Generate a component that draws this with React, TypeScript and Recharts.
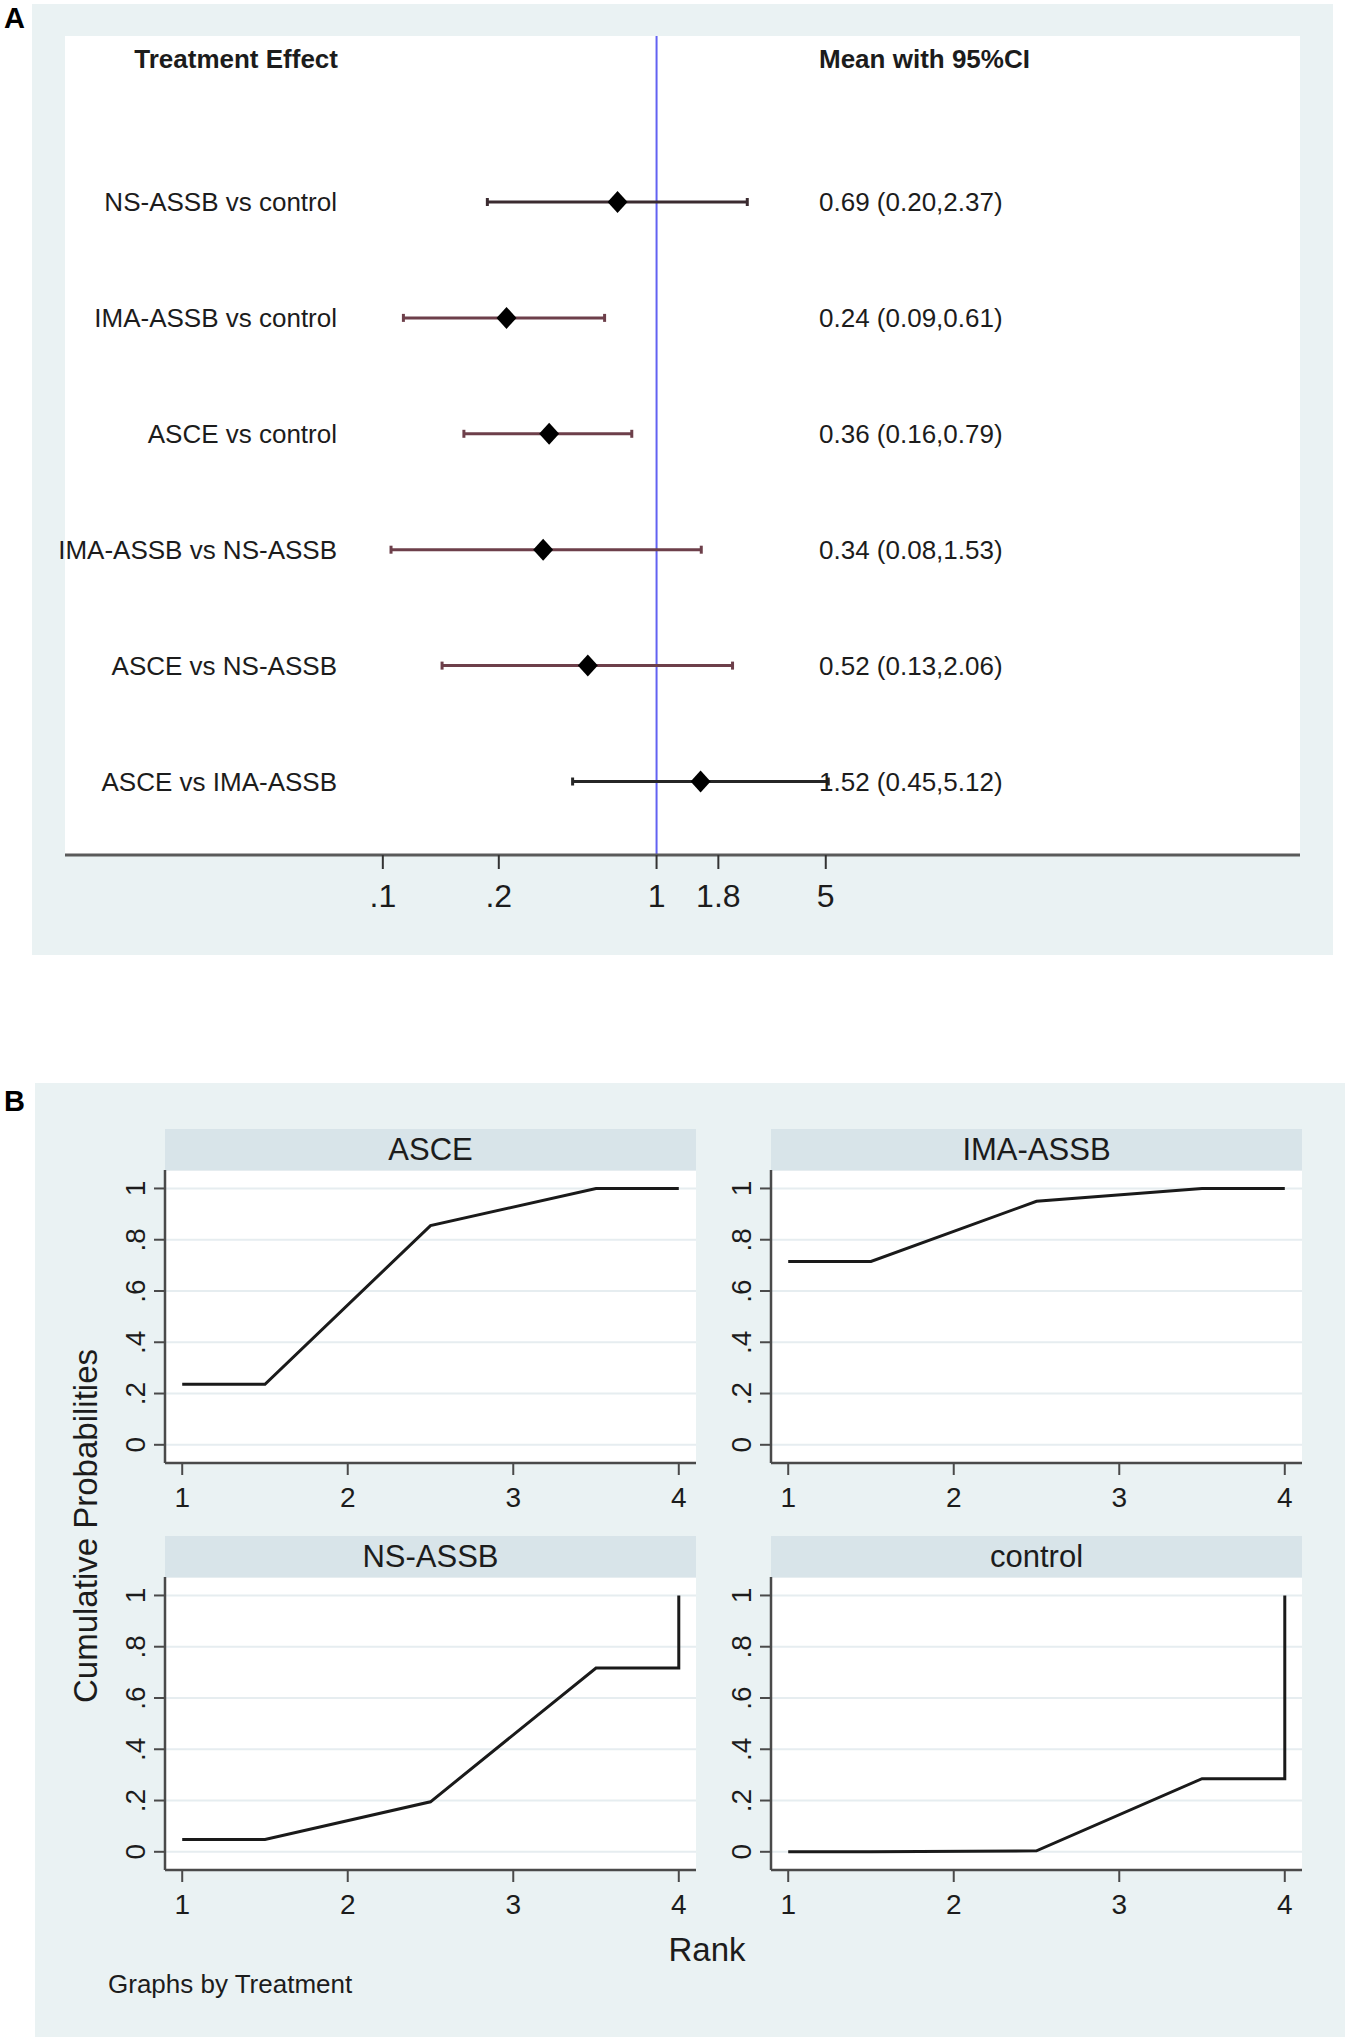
import React from 'react';
import {
  ScatterChart,
  Scatter,
  XAxis,
  YAxis,
  ErrorBar,
  ReferenceLine,
  CartesianGrid,
  LineChart,
  Line,
} from 'recharts';

// ---------- Panel A data (forest plot) ----------
const COMPARISONS = [
  'NS-ASSB vs control',
  'IMA-ASSB vs control',
  'ASCE vs control',
  'IMA-ASSB vs NS-ASSB',
  'ASCE vs NS-ASSB',
  'ASCE vs IMA-ASSB',
];
const MEANS = [0.69, 0.24, 0.36, 0.34, 0.52, 1.52];
const LOWER = [0.2, 0.09, 0.16, 0.08, 0.13, 0.45];
const UPPER = [2.37, 0.61, 0.79, 1.53, 2.06, 5.12];
// tick positions as they appear on the reference axis, and their labels
const FOREST_TICKS = [0.074, 0.223, 1, 1.8, 5];
const FOREST_TICK_LABELS = ['.1', '.2', '1', '1.8', '5'];

// ---------- Panel B data (cumulative rank probabilities) ----------
const RANK_X = [1, 1.5, 2.5, 3.5, 4, 4];
const ASCE_CUM = [0.236, 0.236, 0.855, 1, 1, 1];
const IMA_CUM = [0.715, 0.715, 0.95, 1, 1, 1];
const NS_CUM = [0.048, 0.048, 0.195, 0.717, 0.717, 1];
const CONTROL_CUM = [0, 0, 0.004, 0.285, 0.285, 1];
const RANK_TICKS = [1, 2, 3, 4];
const PROB_TICKS = [0, 0.2, 0.4, 0.6, 0.8, 1];
const PROB_TICK_LABELS = ['0', '.2', '.4', '.6', '.8', '1'];

// ---------- styles ----------
const FONT = '"Liberation Sans", Arial, Helvetica, sans-serif';
const TEXT = '#1c1c1c';
const BG = '#eaf2f3';
const STRIP = '#d8e4e9';
const CI_COLORS = ['#3b2b30', '#6d3f4a', '#6d3f4a', '#6d3f4a', '#6d3f4a', '#262626'];

const fmt = (v: number) => v.toFixed(2);

const forestRows = COMPARISONS.map((label, i) => ({
  y: i,
  x: MEANS[i],
  err: [MEANS[i] - LOWER[i], UPPER[i] - MEANS[i]],
  label,
  text: `${fmt(MEANS[i])} (${fmt(LOWER[i])},${fmt(UPPER[i])})`,
}));

const ForestShape = (props: any) => {
  const { cx, cy, payload } = props;
  return (
    <g>
      <polygon
        points={`${cx},${cy - 11} ${cx + 10},${cy} ${cx},${cy + 11} ${cx - 10},${cy}`}
        fill="#000"
      />
      <text
        x={337}
        y={cy}
        dy="0.36em"
        textAnchor="end"
        fontSize={26}
        fontFamily={FONT}
        fill={TEXT}
      >
        {payload.label}
      </text>
      <text
        x={819}
        y={cy}
        dy="0.36em"
        textAnchor="start"
        fontSize={26}
        fontFamily={FONT}
        fill={TEXT}
      >
        {payload.text}
      </text>
    </g>
  );
};

const ForestPanel = () => (
  <>
    <div
      style={{ position: 'absolute', left: 32, top: 4, width: 1301, height: 951, background: BG }}
    />
    <div
      style={{
        position: 'absolute',
        left: 4,
        top: 4,
        fontSize: 29,
        lineHeight: 1,
        fontWeight: 'bold',
        fontFamily: FONT,
        color: '#000',
      }}
    >
      A
    </div>
    <div style={{ position: 'absolute', left: 0, top: 0 }}>
      <ScatterChart
        width={1350}
        height={960}
        margin={{ top: 36, right: 50, bottom: 45, left: 65 }}
      >
        <CartesianGrid horizontal={false} vertical={false} fill="#ffffff" fillOpacity={1} />
        <XAxis
          type="number"
          dataKey="x"
          scale="log"
          domain={[0.0036, 455]}
          ticks={FOREST_TICKS}
          interval={0}
          height={60}
          tickFormatter={(v: number) => FOREST_TICK_LABELS[FOREST_TICKS.indexOf(v)]}
          axisLine={{ stroke: '#5a5a5a', strokeWidth: 3 }}
          tickLine={{ stroke: '#333', strokeWidth: 2 }}
          tickSize={14}
          tickMargin={15}
          tick={{ fontSize: 32, fill: TEXT, fontFamily: FONT }}
        />
        <YAxis
          type="number"
          dataKey="y"
          domain={[-1.432, 5.634]}
          reversed
          hide
        />
        <ReferenceLine x={1} stroke="#6262f2" strokeWidth={2} />
        {forestRows.map((row, i) => (
          <Scatter
            key={row.label}
            data={[row]}
            shape={ForestShape}
            isAnimationActive={false}
          >
            <ErrorBar
              dataKey="err"
              direction="x"
              width={4}
              stroke={CI_COLORS[i]}
              strokeWidth={3}
            />
          </Scatter>
        ))}
      </ScatterChart>
    </div>
    <div
      style={{
        position: 'absolute',
        left: 0,
        width: 338,
        top: 46,
        textAlign: 'right',
        fontSize: 26,
        lineHeight: 1,
        fontWeight: 'bold',
        fontFamily: FONT,
        color: TEXT,
        whiteSpace: 'nowrap',
      }}
    >
      Treatment Effect
    </div>
    <div
      style={{
        position: 'absolute',
        left: 819,
        top: 46,
        fontSize: 26,
        lineHeight: 1,
        fontWeight: 'bold',
        fontFamily: FONT,
        color: TEXT,
        whiteSpace: 'nowrap',
      }}
    >
      Mean with 95%CI
    </div>
  </>
);

const RotatedTick = (props: any) => {
  const { x, y, payload } = props;
  const label = PROB_TICK_LABELS[PROB_TICKS.indexOf(payload.value)];
  return (
    <text
      x={x}
      y={y}
      transform={`rotate(-90 ${x} ${y})`}
      textAnchor="middle"
      fontSize={28}
      fontFamily={FONT}
      fill={TEXT}
    >
      {label}
    </text>
  );
};

const PLOT_W = 531;
const PLOT_H = 293;
const Y_AXIS_W = 60;
const X_AXIS_H = 60;

const RankPanel = ({
  title,
  values,
  plotLeft,
  plotTop,
}: {
  title: string;
  values: number[];
  plotLeft: number;
  plotTop: number;
}) => {
  const data = RANK_X.map((x, i) => ({ x, y: values[i] }));
  return (
    <>
      <div
        style={{
          position: 'absolute',
          left: plotLeft,
          top: plotTop - 41,
          width: PLOT_W,
          height: 41,
          background: STRIP,
          display: 'flex',
          alignItems: 'center',
          justifyContent: 'center',
          fontSize: 31,
          lineHeight: 1,
          fontFamily: FONT,
          color: TEXT,
        }}
      >
        {title}
      </div>
      <div style={{ position: 'absolute', left: plotLeft - Y_AXIS_W, top: plotTop }}>
        <LineChart
          width={PLOT_W + Y_AXIS_W + 10}
          height={PLOT_H + X_AXIS_H}
          data={data}
          margin={{ top: 0, right: 10, bottom: 0, left: 0 }}
        >
          <CartesianGrid
            vertical={false}
            stroke="#e6edf0"
            strokeWidth={2}
            fill="#ffffff"
            fillOpacity={1}
          />
          <XAxis
            type="number"
            dataKey="x"
            domain={[0.896, 4.104]}
            allowDataOverflow
            ticks={RANK_TICKS}
            interval={0}
            height={X_AXIS_H}
            axisLine={{ stroke: '#4a4a4a', strokeWidth: 2.5 }}
            tickLine={{ stroke: '#4a4a4a', strokeWidth: 2 }}
            tickSize={12}
            tickMargin={12}
            tick={{ fontSize: 28, fill: TEXT, fontFamily: FONT }}
          />
          <YAxis
            type="number"
            domain={[-0.071, 1.072]}
            allowDataOverflow
            ticks={PROB_TICKS}
            interval={0}
            width={Y_AXIS_W}
            axisLine={{ stroke: '#4a4a4a', strokeWidth: 2.5 }}
            tickLine={{ stroke: '#4a4a4a', strokeWidth: 2 }}
            tickSize={11}
            tickMargin={9}
            tick={<RotatedTick />}
          />
          <Line
            type="linear"
            dataKey="y"
            stroke="#1a1a1a"
            strokeWidth={3}
            dot={false}
            isAnimationActive={false}
          />
        </LineChart>
      </div>
    </>
  );
};

const RankPanels = () => (
  <>
    <div
      style={{ position: 'absolute', left: 35, top: 1083, width: 1310, height: 954, background: BG }}
    />
    <div
      style={{
        position: 'absolute',
        left: 4,
        top: 1087,
        fontSize: 29,
        lineHeight: 1,
        fontWeight: 'bold',
        fontFamily: FONT,
        color: '#000',
      }}
    >
      B
    </div>
    <RankPanel title="ASCE" values={ASCE_CUM} plotLeft={165} plotTop={1170} />
    <RankPanel title="IMA-ASSB" values={IMA_CUM} plotLeft={771} plotTop={1170} />
    <RankPanel title="NS-ASSB" values={NS_CUM} plotLeft={165} plotTop={1577} />
    <RankPanel title="control" values={CONTROL_CUM} plotLeft={771} plotTop={1577} />
    <div
      style={{
        position: 'absolute',
        left: 85,
        top: 1526,
        transform: 'translate(-50%, -50%) rotate(-90deg)',
        fontSize: 33,
        lineHeight: 1,
        fontFamily: FONT,
        color: TEXT,
        whiteSpace: 'nowrap',
      }}
    >
      Cumulative Probabilities
    </div>
    <div
      style={{
        position: 'absolute',
        left: 707,
        top: 1949,
        transform: 'translate(-50%, -50%)',
        fontSize: 33,
        lineHeight: 1,
        fontFamily: FONT,
        color: TEXT,
        whiteSpace: 'nowrap',
      }}
    >
      Rank
    </div>
    <div
      style={{
        position: 'absolute',
        left: 108,
        top: 1971,
        fontSize: 26,
        lineHeight: 1,
        fontFamily: FONT,
        color: TEXT,
        whiteSpace: 'nowrap',
      }}
    >
      Graphs by Treatment
    </div>
  </>
);

export default function App() {
  return (
    <div
      style={{
        position: 'absolute',
        left: 0,
        top: 0,
        width: 1350,
        height: 2042,
        background: '#ffffff',
        overflow: 'hidden',
      }}
    >
      <ForestPanel />
      <RankPanels />
    </div>
  );
}
